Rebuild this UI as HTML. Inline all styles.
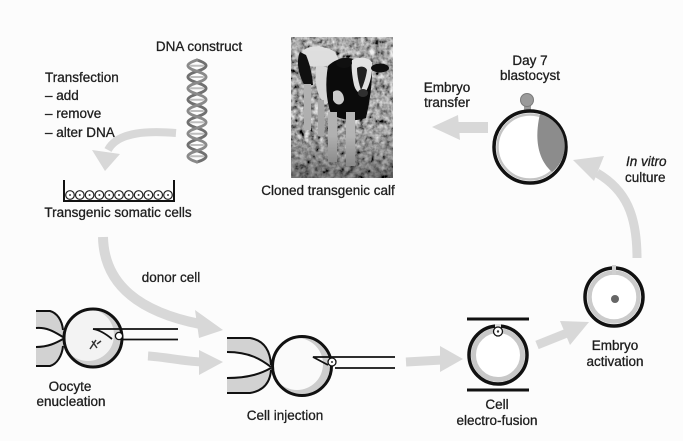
<!DOCTYPE html>
<html><head><meta charset="utf-8"><style>
html,body{margin:0;padding:0;background:#fcfcfc;}
svg{display:block}
</style></head><body>
<svg width="683" height="441" viewBox="0 0 683 441" xmlns="http://www.w3.org/2000/svg" font-family="'Liberation Sans', Arial, sans-serif" font-size="13.5" fill="#1e1e1e">
<defs>
  <filter id="grain" x="0" y="0" width="100%" height="100%">
    <feTurbulence type="fractalNoise" baseFrequency="0.2" numOctaves="3" seed="5" result="n"/>
    <feColorMatrix in="n" type="matrix" values="0.33 0.33 0.33 0 0  0.33 0.33 0.33 0 0  0.33 0.33 0.33 0 0  0 0 0 0 1" result="g"/>
    <feComponentTransfer in="g">
      <feFuncR type="linear" slope="2.6" intercept="-0.85"/>
      <feFuncG type="linear" slope="2.6" intercept="-0.85"/>
      <feFuncB type="linear" slope="2.6" intercept="-0.85"/>
    </feComponentTransfer>
  </filter>
  <linearGradient id="dark" x1="0" y1="0" x2="0" y2="1">
    <stop offset="0" stop-color="#000" stop-opacity="0.05"/>
    <stop offset="0.7" stop-color="#000" stop-opacity="0.1"/>
    <stop offset="1" stop-color="#000" stop-opacity="0.4"/>
  </linearGradient>
  <clipPath id="ooc"><circle cx="93" cy="338" r="28"/></clipPath>
  <clipPath id="inj"><circle cx="302" cy="366" r="28"/></clipPath>
</defs>

<rect width="683" height="441" fill="#fcfcfc"/>

<!-- ===== Labels ===== -->
<g stroke="#1e1e1e" stroke-width="0.3">
<text x="199" y="51" text-anchor="middle">DNA construct</text>
<text x="45" y="82">Transfection</text>
<text x="45" y="100">– add</text>
<text x="45" y="118">– remove</text>
<text x="45" y="137">– alter DNA</text>
<text x="118" y="217" text-anchor="middle">Transgenic somatic cells</text>
<text x="328" y="195" text-anchor="middle">Cloned transgenic calf</text>
<text x="530" y="65" text-anchor="middle">Day 7</text>
<text x="530" y="80" text-anchor="middle">blastocyst</text>
<text x="447" y="92" text-anchor="middle">Embryo</text>
<text x="447" y="107" text-anchor="middle">transfer</text>
<text x="626" y="166" font-style="italic">In vitro</text>
<text x="625" y="182">culture</text>
<text x="171" y="282" text-anchor="middle">donor cell</text>
<text x="70" y="391" text-anchor="middle">Oocyte</text>
<text x="71" y="406" text-anchor="middle">enucleation</text>
<text x="285" y="420" text-anchor="middle">Cell injection</text>
<text x="497" y="409" text-anchor="middle">Cell</text>
<text x="497" y="425" text-anchor="middle">electro-fusion</text>
<text x="615" y="350" text-anchor="middle">Embryo</text>
<text x="615" y="366" text-anchor="middle">activation</text>
</g>

<!-- ===== Gray arrows ===== -->
<g fill="#d8d8d8" stroke="none">
  <path d="M176,133 C150,131 118,131 108,150" fill="none" stroke="#d8d8d8" stroke-width="8"/>
  <polygon points="92,150 120,154 105,171"/>
  <path d="M103,237 C104,285 140,312 200,324" fill="none" stroke="#d8d8d8" stroke-width="10"/>
  <polygon points="195,310 199,338 223,330"/>
  <path d="M148,356 C165,357 182,361 201,362" fill="none" stroke="#d8d8d8" stroke-width="9"/>
  <polygon points="199,350 199,375 223,362"/>
  <path d="M406,362 L442,360" fill="none" stroke="#d8d8d8" stroke-width="9"/>
  <polygon points="440,346 440,372 463,359"/>
  <path d="M537,345 L567,333" fill="none" stroke="#d8d8d8" stroke-width="9"/>
  <polygon points="560,321 570,345 589,322"/>
  <path d="M637,258 C637,215 626,190 597,173" fill="none" stroke="#d8d8d8" stroke-width="9"/>
  <polygon points="573,160 604,156 594,181"/>
  <rect x="455" y="122" width="33" height="11"/>
  <polygon points="432,127 458,115 460,140"/>
</g>

<!-- ===== DNA helix ===== -->
<g fill="none" stroke-linecap="round">
  <g stroke="#bdbdbd" stroke-width="2">
    <line x1="191" y1="65.7" x2="203" y2="65.7"/>
    <line x1="191" y1="77" x2="203" y2="77"/>
    <line x1="191" y1="88.3" x2="203" y2="88.3"/>
    <line x1="191" y1="99.7" x2="203" y2="99.7"/>
    <line x1="191" y1="111" x2="203" y2="111"/>
    <line x1="191" y1="122.3" x2="203" y2="122.3"/>
    <line x1="191" y1="133.7" x2="203" y2="133.7"/>
    <line x1="191" y1="145" x2="203" y2="145"/>
    <line x1="191" y1="156.3" x2="203" y2="156.3"/>
  </g>
  <path d="M197,60 Q215,65.67 197,71.33 T197,82.67 T197,94 T197,105.33 T197,116.67 T197,128 T197,139.33 T197,150.67 T197,162" stroke="#707070" stroke-width="3"/>
  <path d="M197,60 Q179,65.67 197,71.33 T197,82.67 T197,94 T197,105.33 T197,116.67 T197,128 T197,139.33 T197,150.67 T197,162" stroke="#8a8a8a" stroke-width="3"/>
</g>

<!-- ===== Dish ===== -->
<g>
  <path d="M64,180 V201 H174 V180" fill="none" stroke="#111" stroke-width="2"/>
  <g fill="#fff" stroke="#222" stroke-width="1.2">
    <circle cx="70" cy="195" r="4.3"/><circle cx="79.8" cy="195" r="4.3"/><circle cx="89.6" cy="195" r="4.3"/>
    <circle cx="99.4" cy="195" r="4.3"/><circle cx="109.2" cy="195" r="4.3"/><circle cx="119" cy="195" r="4.3"/>
    <circle cx="128.8" cy="195" r="4.3"/><circle cx="138.6" cy="195" r="4.3"/><circle cx="148.4" cy="195" r="4.3"/>
    <circle cx="158.2" cy="195" r="4.3"/><circle cx="168" cy="195" r="4.3"/>
  </g>
  <g fill="#444">
    <circle cx="70" cy="195" r="1"/><circle cx="79.8" cy="195" r="1"/><circle cx="89.6" cy="195" r="1"/>
    <circle cx="99.4" cy="195" r="1"/><circle cx="109.2" cy="195" r="1"/><circle cx="119" cy="195" r="1"/>
    <circle cx="128.8" cy="195" r="1"/><circle cx="138.6" cy="195" r="1"/><circle cx="148.4" cy="195" r="1"/>
    <circle cx="158.2" cy="195" r="1"/><circle cx="168" cy="195" r="1"/>
  </g>
</g>

<!-- ===== Calf photo ===== -->
<g>
  <rect x="291" y="37" width="102" height="141" fill="#6e6e6e"/>
  <rect x="291" y="37" width="102" height="141" filter="url(#grain)"/>
  <path d="M302,52 C308,44 325,45 335,52 L340,62 C330,66 318,68 310,66 Z" fill="#ececec"/>
  <path d="M300,52 C296,60 298,75 305,86 L313,85 C312,72 309,62 306,55 Z" fill="#111"/>
  <rect x="304" y="84" width="7" height="46" fill="#c0c0c0"/>
  <path d="M316,66 C326,64 333,70 334,80 C334,92 331,100 326,105 C318,98 314,85 316,66 Z" fill="#e6e6e6"/>
  <path d="M328,66 C336,58 348,56 356,60 L372,70 C372,85 370,100 366,118 C355,122 340,120 331,114 C326,100 325,82 328,66 Z" fill="#0c0c0c"/>
  <path d="M333,92 C338,88 344,92 344,100 C342,106 336,106 333,100 Z" fill="#dcdcdc"/>
  <path d="M352,60 C358,56 368,57 372,62 C373,72 370,85 365,93 C360,95 356,92 354,85 C352,76 351,66 352,60 Z" fill="#f2f2f2"/>
  <path d="M357,68 C360,66 365,66 367,70 C366,78 363,86 361,90 C359,84 357,76 357,68 Z" fill="#222"/>
  <ellipse cx="344" cy="63" rx="8" ry="5" fill="#111"/>
  <ellipse cx="380" cy="68" rx="9" ry="4.5" fill="#111"/>
  <ellipse cx="363" cy="93" rx="5" ry="4" fill="#333"/>
  <rect x="328" y="112" width="9" height="50" fill="#c4c4c4"/>
  <rect x="346" y="112" width="9" height="54" fill="#c8c8c8"/>
  <rect x="318" y="100" width="6" height="36" fill="#b5b5b5"/>
  <rect x="291" y="37" width="102" height="141" fill="url(#dark)"/>
</g>

<!-- ===== Blastocyst ===== -->
<g>
  <rect x="524" y="103" width="7" height="9" fill="#9a9a9a"/>
  <circle cx="527" cy="100" r="6.5" fill="#9a9a9a" stroke="#7a7a7a" stroke-width="1"/>
  <circle cx="530" cy="147" r="36" fill="#fff" stroke="#111" stroke-width="3.5"/>
  <circle cx="530" cy="147" r="32.5" fill="none" stroke="#c4c4c4" stroke-width="2.5"/>
  <path d="M540,114 C535,135 536,158 552,172 A33,33 0 0 0 540,114 Z" fill="#8c8c8c"/>
</g>

<!-- ===== Oocyte enucleation ===== -->
<g>
  <path d="M36,311 H50 C57,313 62,320 63,330 L63,337 C56,333 48,327 36,328 Z" fill="#d2d2d2"/>
  <path d="M36,366 H50 C57,364 62,356 63,346 L63,339 C56,343 48,347 36,347 Z" fill="#d2d2d2"/>
  <g fill="none" stroke="#111" stroke-width="2">
    <path d="M36,311 H50 C57,313 62,320 63,330"/>
    <path d="M36,328 C48,327 56,333 63,337"/>
    <path d="M36,347 C48,347 56,343 63,339"/>
    <path d="M36,366 H50 C57,364 62,356 63,346"/>
  </g>
  <g clip-path="url(#ooc)">
    <rect x="60" y="305" width="70" height="70" fill="#cfcfcf"/>
    <circle cx="88" cy="335" r="26" fill="#f3f3f3"/>
  </g>
  <circle cx="93" cy="338" r="29" fill="none" stroke="#111" stroke-width="3"/>
  <path d="M90,349 L96,340 M92,341 L97,348 M97,344 L101,341" stroke="#333" stroke-width="1.5" fill="none"/>
  <path d="M178,329 H93 C100,330 106,334 112,339" fill="none" stroke="#111" stroke-width="1.8"/>
  <line x1="123" y1="339.5" x2="178" y2="339.5" stroke="#111" stroke-width="1.8"/>
  <circle cx="119" cy="336" r="3.6" fill="#fff" stroke="#111" stroke-width="1.3"/>
</g>

<!-- ===== Cell injection ===== -->
<g>
  <path d="M227,338 H250 C262,340 270,348 271,365 L271,367 C262,360 250,352 227,352 Z" fill="#d2d2d2"/>
  <path d="M227,393 H250 C262,391 270,384 271,370 L271,368 C262,373 250,378 227,378 Z" fill="#d2d2d2"/>
  <g fill="none" stroke="#111" stroke-width="2">
    <path d="M227,338 H250 C262,340 270,348 271,365"/>
    <path d="M227,352 C250,352 262,360 271,367"/>
    <path d="M227,378 C250,378 262,373 271,368"/>
    <path d="M227,393 H250 C262,391 270,384 271,370"/>
  </g>
  <g clip-path="url(#inj)">
    <rect x="270" y="334" width="66" height="66" fill="#cdcdcd"/>
    <circle cx="297" cy="364" r="26" fill="#fafafa"/>
  </g>
  <circle cx="302" cy="366" r="29.5" fill="none" stroke="#111" stroke-width="3"/>
  <path d="M395,357 H313 L328,365" fill="none" stroke="#111" stroke-width="1.8"/>
  <line x1="335" y1="368" x2="395" y2="368" stroke="#111" stroke-width="1.8"/>
  <circle cx="332" cy="362" r="4" fill="#fff" stroke="#111" stroke-width="1.3"/>
  <circle cx="332" cy="362" r="1" fill="#333"/>
</g>

<!-- ===== Cell electro-fusion ===== -->
<g>
  <line x1="467" y1="319" x2="529" y2="319" stroke="#111" stroke-width="3"/>
  <line x1="467" y1="390" x2="529" y2="390" stroke="#111" stroke-width="3"/>
  <circle cx="498" cy="355" r="29" fill="#fff" stroke="#111" stroke-width="3.5"/>
  <circle cx="498" cy="355" r="24.5" fill="none" stroke="#c8c8c8" stroke-width="5"/>
  <rect x="495" y="324" width="6" height="5" fill="#e0e0e0"/>
  <circle cx="498" cy="331.5" r="4.5" fill="#fff" stroke="#111" stroke-width="1.3"/>
  <circle cx="498" cy="331.5" r="1.2" fill="#333"/>
</g>

<!-- ===== Embryo activation ===== -->
<g>
  <circle cx="614" cy="297" r="29" fill="#fff" stroke="#111" stroke-width="3.5"/>
  <circle cx="614" cy="297" r="24.5" fill="none" stroke="#cbcbcb" stroke-width="4.5"/>
  <rect x="612" y="265" width="4" height="10" fill="#d0d0d0"/>
  <circle cx="615" cy="299" r="4" fill="#666"/>
</g>

</svg>
</body></html>
